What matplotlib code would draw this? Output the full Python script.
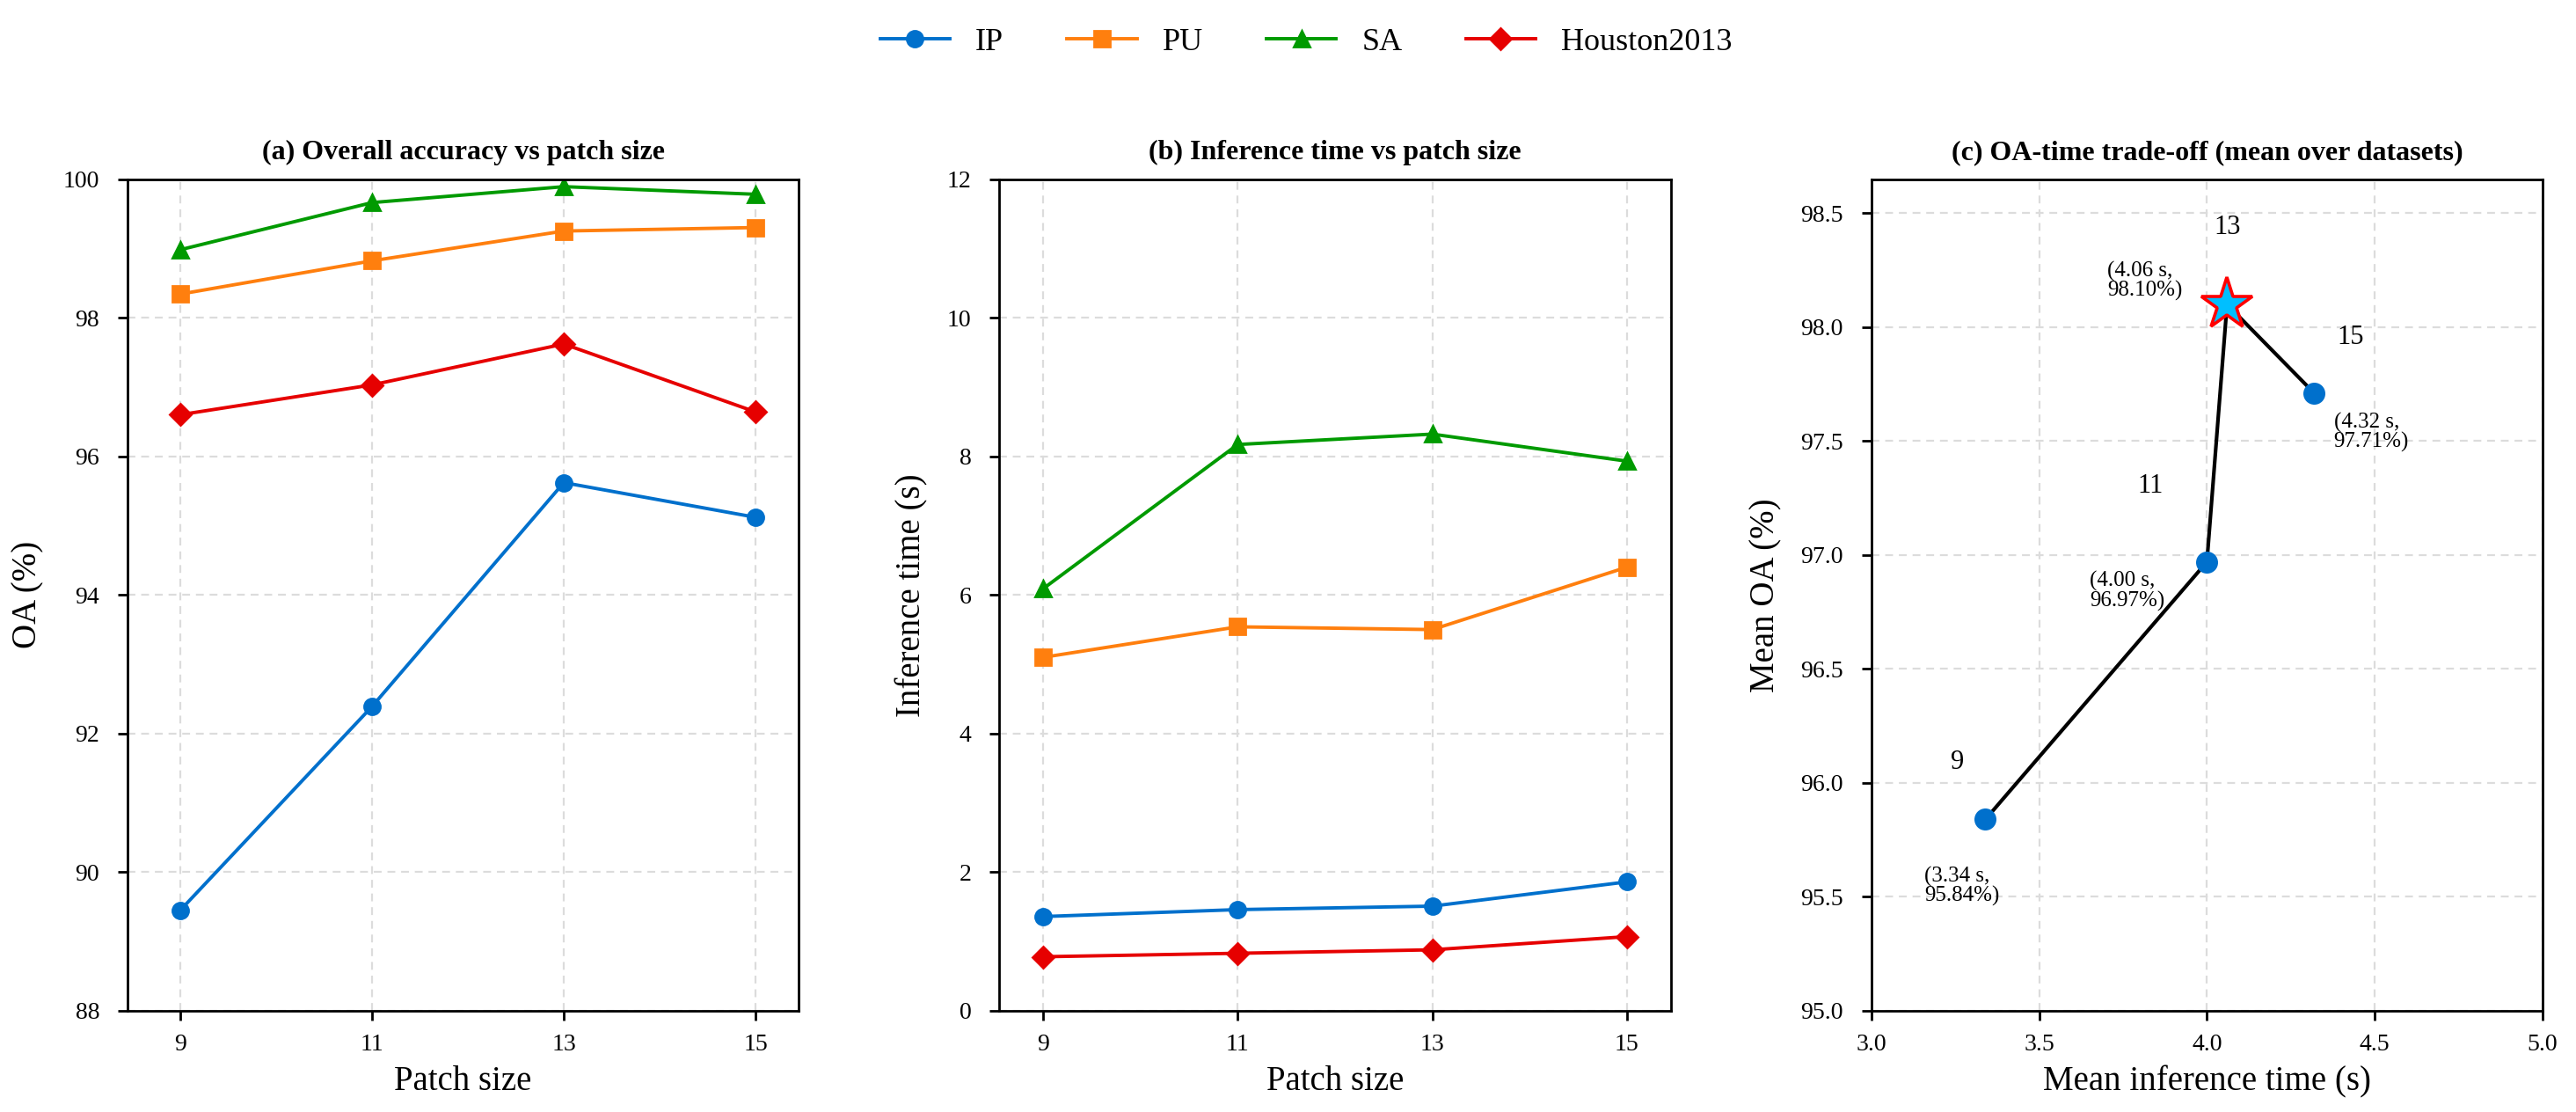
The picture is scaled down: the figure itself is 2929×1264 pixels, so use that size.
"""
Patch size ablation — OA / inference time / trade-off, three panels in one row
"""
import matplotlib
matplotlib.use("Agg")
import matplotlib.pyplot as plt

plt.rcParams["font.family"] = ["Liberation Serif", "DejaVu Serif"]

# ── data ─────────────────────────────────────────────────────────

patch_sizes = [9, 11, 13, 15]
datasets = ["IP", "PU", "SA", "Houston2013"]

oa_ip      = [89.45, 92.39, 95.62, 95.12]
oa_pu      = [98.34, 98.82, 99.25, 99.30]
oa_sa      = [98.98, 99.66, 99.89, 99.78]
oa_houston = [96.60, 97.03, 97.62, 96.64]

time_ip      = [1.36, 1.46, 1.51, 1.86]
time_pu      = [5.10, 5.54, 5.50, 6.40]
time_sa      = [6.09, 8.17, 8.32, 7.93]
time_houston = [0.78, 0.83, 0.88, 1.07]

mean_time = [3.34, 4.00, 4.06, 4.32]
mean_oa   = [95.84, 96.97, 98.10, 97.71]
best_idx  = 2   # patch 13

colors  = ["#0070cc", "#ff7f0e", "#009a00", "#e60000"]
markers = ["o", "s", "^", "D"]

# ── figure ───────────────────────────────────────────────────────

fig, axes = plt.subplots(1, 3, figsize=(14.645, 6.32), dpi=200)
fig.subplots_adjust(left=0.0495, right=0.987, bottom=0.091, top=0.839, wspace=0.299)

GRID = dict(color="#dcdcdc", linewidth=0.8, linestyle=(0, (4, 3)))


def style_axis(ax):
    for sp in ax.spines.values():
        sp.set_linewidth(1.0)
    ax.tick_params(direction="out", length=4, width=1.0, labelsize=10)
    ax.tick_params(axis="x", pad=5.5)
    ax.tick_params(axis="y", pad=7.5)
    ax.yaxis.labelpad = 7.5
    ax.grid(True, **GRID)
    ax.set_axisbelow(True)


def plot_series(ax, series):
    for name, vals, c, m in zip(datasets, series, colors, markers):
        ax.plot(patch_sizes, vals, color=c, marker=m,
                markersize=6.5 if m != "D" else 6,
                linewidth=1.4, label=name)


# (a) OA
ax = axes[0]
plot_series(ax, [oa_ip, oa_pu, oa_sa, oa_houston])
ax.set_xlim(8.45, 15.45)
ax.set_ylim(88, 100)
ax.set_xticks(patch_sizes)
ax.set_xlabel("Patch size", fontsize=14)
ax.set_ylabel("OA (%)", fontsize=14)
ax.set_title("(a) Overall accuracy vs patch size", fontsize=11.5, fontweight="bold", pad=8)
style_axis(ax)

# (b) inference time
ax = axes[1]
plot_series(ax, [time_ip, time_pu, time_sa, time_houston])
ax.set_xlim(8.55, 15.45)
ax.set_ylim(0, 12)
ax.set_xticks(patch_sizes)
ax.set_xlabel("Patch size", fontsize=14)
ax.set_ylabel("Inference time (s)", fontsize=14)
ax.set_title("(b) Inference time vs patch size", fontsize=11.5, fontweight="bold", pad=8)
style_axis(ax)

# (c) trade-off
ax = axes[2]
ax.plot(mean_time, mean_oa, color="black", linewidth=1.5, zorder=2)
others = [i for i in range(len(mean_time)) if i != best_idx]
ax.plot([mean_time[i] for i in others], [mean_oa[i] for i in others],
        linestyle="none", marker="o", markersize=8, color="#0070cc", zorder=3)
ax.plot(mean_time[best_idx], mean_oa[best_idx], linestyle="none", marker="*",
        markersize=22, markerfacecolor="#00bfff", markeredgecolor="red",
        markeredgewidth=1.3, zorder=4)

# 標號位置 (offset points)
num_offsets = [(-11.5, 23.5), (-23, 31), (0, 31.5), (15, 23)]
txt_offsets = [(-25, -27.5), (-48, -12), (-49, 9.5), (8, -16)]
for i, p in enumerate(patch_sizes):
    ax.annotate(str(p), (mean_time[i], mean_oa[i]), xytext=num_offsets[i],
                textcoords="offset points", ha="center", va="center", fontsize=11)
    ax.annotate(f"({mean_time[i]:.2f} s,\n{mean_oa[i]:.2f}%)", (mean_time[i], mean_oa[i]),
                xytext=txt_offsets[i], textcoords="offset points",
                ha="left", va="center", fontsize=9, linespacing=0.95)

ax.set_xlim(3.0, 5.0)
ax.set_ylim(95.0, 98.65)
ax.set_xticks([3.0, 3.5, 4.0, 4.5, 5.0])
ax.set_yticks([95.0, 95.5, 96.0, 96.5, 97.0, 97.5, 98.0, 98.5])
ax.xaxis.set_major_formatter(matplotlib.ticker.FormatStrFormatter("%.1f"))
ax.yaxis.set_major_formatter(matplotlib.ticker.FormatStrFormatter("%.1f"))
ax.set_xlabel("Mean inference time (s)", fontsize=14)
ax.set_ylabel("Mean OA (%)", fontsize=14)
ax.set_title("(c) OA-time trade-off (mean over datasets)", fontsize=11.5, fontweight="bold", pad=8)
style_axis(ax)

# shared legend
handles, labels = axes[0].get_legend_handles_labels()
fig.legend(handles, labels, loc="center", bbox_to_anchor=(0.507, 0.962), ncol=4,
           frameon=False, fontsize=13, handlelength=2.2, columnspacing=2.0)

fig.savefig("out.png", dpi=200)
